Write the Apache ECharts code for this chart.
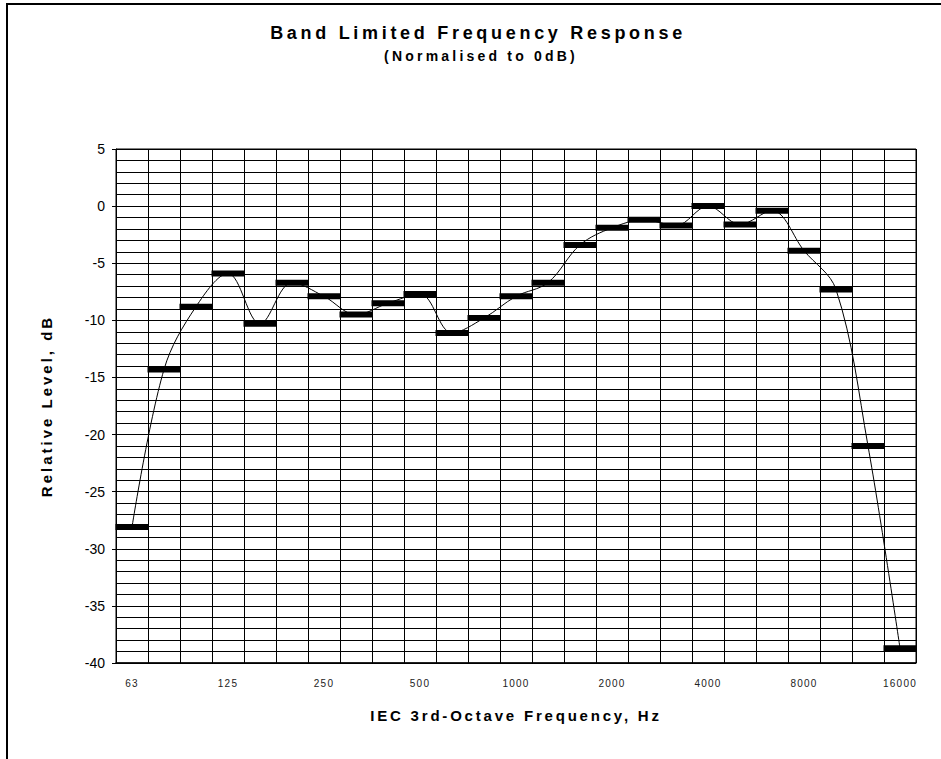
<!DOCTYPE html>
<html>
<head>
<meta charset="utf-8">
<script src="https://cdn.jsdelivr.net/npm/echarts@6/dist/echarts.min.js"></script>
<style>
  html, body { margin: 0; padding: 0; background: #fff; }
  #chart { width: 941px; height: 759px; }
</style>
</head>
<body>
<div id="chart"></div>
<script>
// IEC third-octave band centres, Hz
const bands = ['63', '80', '100', '125', '160', '200', '250', '315', '400', '500',
  '630', '800', '1000', '1250', '1600', '2000', '2500', '3150', '4000', '5000',
  '6300', '8000', '10000', '12500', '16000'];

// Band levels relative to the loudest band, dB
const levels = [-28.1, -14.3, -8.8, -5.9, -10.3, -6.7, -7.9, -9.5, -8.5, -7.7,
  -11.1, -9.8, -7.9, -6.7, -3.4, -1.9, -1.2, -1.7, 0.0, -1.6,
  -0.4, -3.9, -7.3, -21.0, -38.7];

// Level axis range and labelled step
const levelMin = -40;
const levelMax = 5;
const levelStep = 5;

const titleText = 'Band Limited Frequency Response';
const subtitleText = '(Normalised to 0dB)';
const xName = 'IEC 3rd-Octave Frequency, Hz';
const yName = 'Relative Level, dB';

const FONT = '"Liberation Sans", Arial, Helvetica, sans-serif';

const el = document.getElementById('chart');
const chart = echarts.init(el, null, { renderer: 'svg' });

chart.setOption({
  animation: false,
  backgroundColor: '#fff',
  textStyle: { fontFamily: FONT },
  graphic: [
    {
      type: 'rect', silent: true, z: -1,
      shape: { x: 7, y: 4, width: 1200, height: 1200 },
      style: { fill: 'none', stroke: '#000', lineWidth: 2 }
    },
    {
      type: 'text', silent: true,
      x: 478, y: 33,
      style: {
        text: titleText, fill: '#000',
        font: 'bold 18px ' + FONT,
        textAlign: 'center', textVerticalAlign: 'middle'
      }
    },
    {
      type: 'text', silent: true,
      x: 481, y: 56,
      style: {
        text: subtitleText, fill: '#000',
        font: 'bold 14px ' + FONT,
        textAlign: 'center', textVerticalAlign: 'middle'
      }
    }
  ],
  grid: {
    left: 116, top: 149, width: 800, height: 514,
    show: true, borderColor: '#000', borderWidth: 1,
    containLabel: false
  },
  xAxis: {
    type: 'category',
    position: 'bottom',
    data: bands,
    boundaryGap: true,
    name: xName,
    nameLocation: 'middle',
    nameGap: 45,
    nameTextStyle: { fontFamily: FONT, fontWeight: 'bold', fontSize: 15, color: '#000' },
    axisLine: { show: true, onZero: false, lineStyle: { color: '#000', width: 1.5 } },
    axisTick: { show: false },
    axisLabel: {
      interval: 2, margin: 15,
      fontFamily: FONT, fontSize: 10, color: '#222'
    },
    splitLine: { show: true, interval: 0, lineStyle: { color: '#000', width: 1 } }
  },
  yAxis: {
    type: 'value',
    position: 'left',
    min: levelMin, max: levelMax, interval: levelStep,
    name: yName,
    nameLocation: 'middle',
    nameRotate: 90,
    nameGap: 62,
    nameTextStyle: { fontFamily: FONT, fontWeight: 'bold', fontSize: 15, color: '#000' },
    axisLine: { show: true, onZero: false, lineStyle: { color: '#000', width: 1 } },
    axisTick: { show: true, inside: false, length: 4, lineStyle: { color: '#000' } },
    minorTick: { show: false, splitNumber: 5 },
    minorSplitLine: { show: true, lineStyle: { color: '#000', width: 1 } },
    axisLabel: { margin: 11, fontFamily: FONT, fontSize: 14, color: '#000' },
    splitLine: { show: true, lineStyle: { color: '#000', width: 1 } }
  },
  series: [
    {
      name: 'curve',
      type: 'line',
      data: levels,
      smooth: 0.35,
      symbol: 'none',
      lineStyle: { color: '#000', width: 1 },
      z: 2
    },
    {
      name: 'band',
      type: 'scatter',
      data: levels,
      symbol: 'rect',
      symbolSize: [33, 6],
      itemStyle: { color: '#000', opacity: 1 },
      z: 3
    }
  ]
});

// Wider character spacing for the titles and axis names
const spacing = {};
spacing[titleText] = '3.7px';
spacing[subtitleText] = '3.2px';
spacing[xName] = '2.8px';
spacing[yName] = '3px';
function applySpacing() {
  el.querySelectorAll('text').forEach(function (t) {
    const s = spacing[t.textContent];
    if (s) t.style.letterSpacing = s;
    else if (bands.indexOf(t.textContent) >= 0) t.style.letterSpacing = '1.2px';
  });
}
applySpacing();
chart.on('finished', applySpacing);
</script>
</body>
</html>
